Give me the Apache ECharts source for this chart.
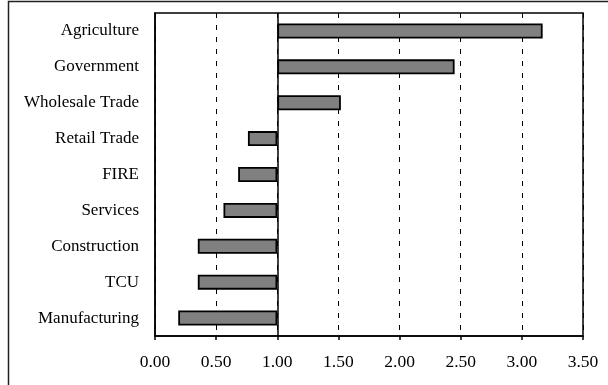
<!DOCTYPE html>
<html><head><meta charset="utf-8">
<script src="https://cdn.jsdelivr.net/npm/echarts@6/dist/echarts.min.js"></script>
<style>html,body{margin:0;padding:0;background:#fff}#c{width:608px;height:385px}</style>
</head><body><div id="c"></div>
<script>
var categories = ["Manufacturing","TCU","Construction","Services","FIRE","Retail Trade","Wholesale Trade","Government","Agriculture"];
var values = [0.19, 0.35, 0.35, 0.56, 0.68, 0.76, 1.52, 2.45, 3.17];
var baseline = 1.0;
var xTicks = {min: 0, max: 3.5, interval: 0.5};

var baseData = values.map(function(v){ return Math.min(v, baseline); });
var barData = values.map(function(v){ return Math.abs(v - baseline); });

var chart = echarts.init(document.getElementById('c'), null, {renderer: 'canvas'});
var font = '"Liberation Serif", "Times New Roman", serif';
chart.setOption({
  animation: false,
  textStyle: {fontFamily: font},
  graphic: [{type: 'rect', shape: {x: 8.5, y: 1.5, width: 700, height: 500}, style: {fill: 'none', stroke: '#222', lineWidth: 1.5}, silent: true}],
  grid: {left: 155, right: 25, top: 13, bottom: 49, show: true, borderColor: '#000', borderWidth: 1.5, containLabel: false},
  xAxis: {
    type: 'value', min: xTicks.min, max: xTicks.max, interval: xTicks.interval,
    axisLine: {show: true, lineStyle: {color: '#000', width: 1.5}},
    axisTick: {show: true, length: 4, lineStyle: {color: '#000', width: 1.5}},
    axisLabel: {color: '#000', fontSize: 17.5, fontFamily: font, margin: 17, formatter: function(v){ return v.toFixed(2); }},
    splitLine: {show: true, lineStyle: {color: '#000', type: [5, 7], width: 1}}
  },
  yAxis: {
    type: 'category', data: categories,
    axisLine: {show: true, lineStyle: {color: '#000', width: 1.5}},
    axisTick: {show: false},
    axisLabel: {color: '#000', fontSize: 17, fontFamily: font, margin: 16}
  },
  series: [
    {type: 'bar', stack: 's', data: baseData, barWidth: 15, itemStyle: {color: 'transparent'}, silent: true,
     markLine: {symbol: 'none', silent: true, label: {show: false}, lineStyle: {color: '#000', type: 'solid', width: 1.5}, data: [{xAxis: baseline}]}},
    {type: 'bar', stack: 's', data: barData, barWidth: 15, itemStyle: {color: '#808080', borderColor: '#000', borderWidth: 1.8}}
  ]
});
</script></body></html>
